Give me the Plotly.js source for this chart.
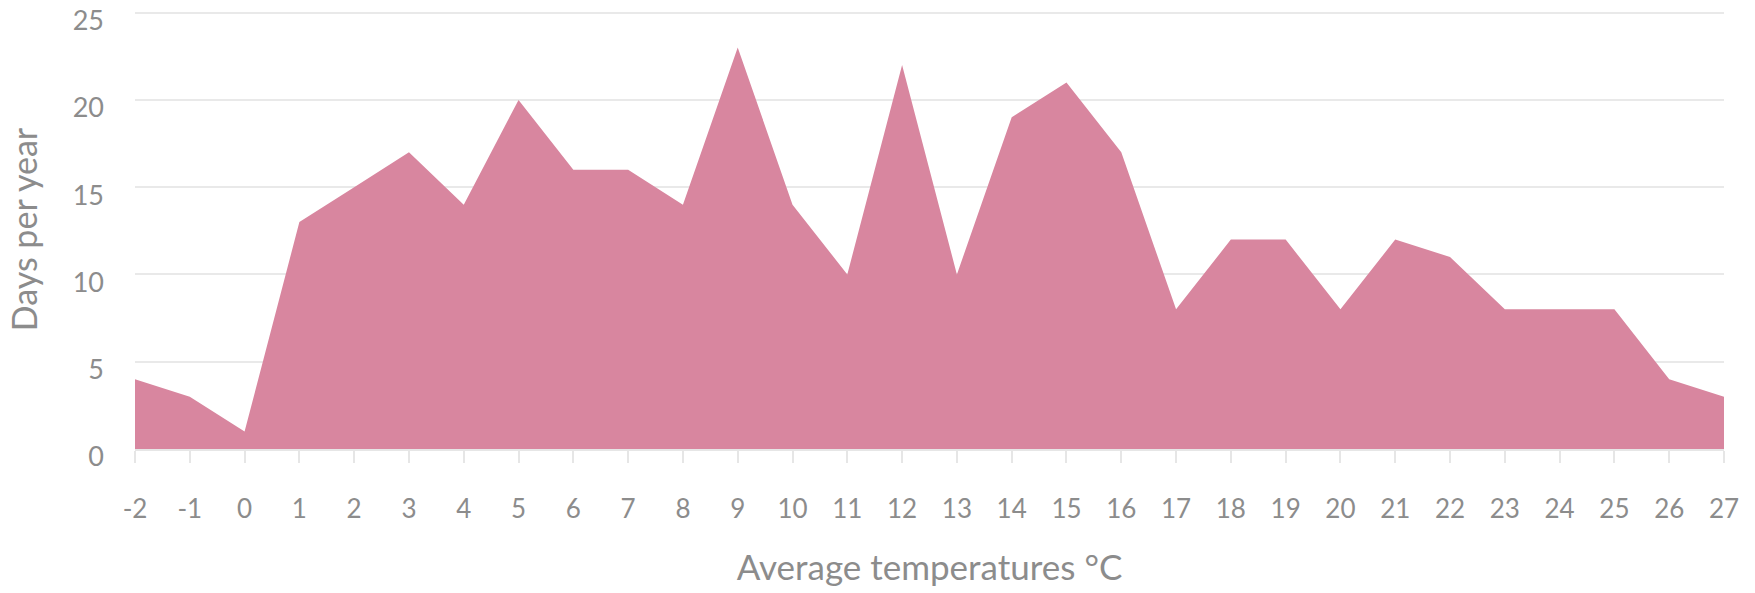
<!DOCTYPE html>
<html>
<head>
<meta charset="utf-8">
<script src="https://cdn.plot.ly/plotly-3.0.1.min.js"></script>
<style>html,body{margin:0;padding:0;background:#fff;}#chart{width:1755px;height:593px;}</style>
</head>
<body>
<div id="chart"></div>
<script>
const temperatures = [-2,-1,0,1,2,3,4,5,6,7,8,9,10,11,12,13,14,15,16,17,18,19,20,21,22,23,24,25,26,27];
const daysPerYear = [4,3,1,13,15,17,14,20,16,16,14,23,14,10,22,10,19,21,17,8,12,12,8,12,11,8,8,8,4,3];
const yTicks = [0,5,10,15,20,25];
const xTitle = 'Average temperatures °C';
const yTitle = 'Days per year';

const textColor = '#8c8c8c';
const gridColor = '#e9e9e9';

const trace = {
  x: temperatures,
  y: daysPerYear,
  type: 'scatter',
  mode: 'lines',
  fill: 'tozeroy',
  fillcolor: 'rgb(216,134,159)',
  line: {width: 0, color: 'rgb(216,134,159)'},
  hoverinfo: 'x+y'
};

const layout = {
  width: 1755,
  height: 593,
  margin: {l: 135, r: 31, t: 10, b: 144},
  paper_bgcolor: '#ffffff',
  plot_bgcolor: '#ffffff',
  showlegend: false,
  font: {family: 'Lato, "Open Sans", sans-serif', color: textColor, size: 24},
  xaxis: {
    range: [-2, 27],
    tickmode: 'array',
    tickvals: temperatures,
    ticktext: temperatures.map(String),
    showgrid: false,
    zeroline: false,
    showline: true,
    linecolor: '#e6e6e6',
    linewidth: 2,
    ticks: 'outside',
    ticklen: 12,
    tickwidth: 2,
    tickcolor: '#e6e6e6',
    ticklabelstandoff: 24,
    tickfont: {size: 26, color: textColor},
    title: {text: xTitle, font: {size: 35, color: textColor}, standoff: 32},
    automargin: false
  },
  yaxis: {
    range: [0, 25.15],
    tickmode: 'array',
    tickvals: yTicks,
    ticktext: yTicks.map(String),
    showgrid: true,
    gridcolor: gridColor,
    gridwidth: 2,
    zeroline: false,
    showline: false,
    ticks: '',
    ticklabelstandoff: 30,
    ticklabelshift: 8,
    tickfont: {size: 27, color: textColor},
    title: {text: yTitle, font: {size: 34, color: textColor}, standoff: 24},
    automargin: false
  }
};

Plotly.newPlot('chart', [trace], layout, {displayModeBar: false, staticPlot: true});
</script>
</body>
</html>
